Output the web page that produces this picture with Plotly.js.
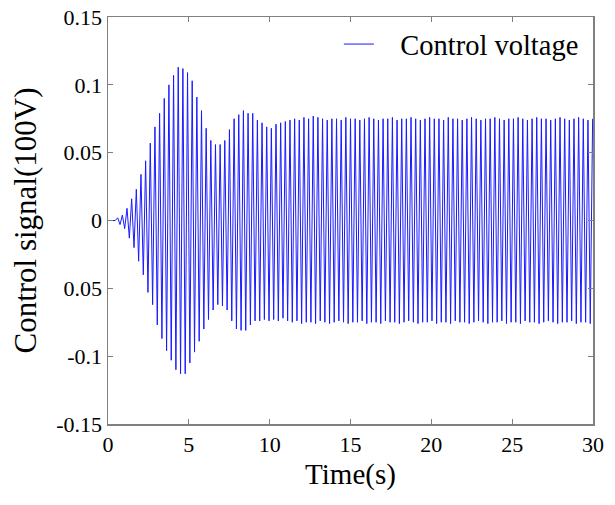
<!DOCTYPE html>
<html>
<head>
<meta charset="utf-8">
<script src="https://cdn.plot.ly/plotly-3.0.1.min.js"></script>
<style>html,body{margin:0;padding:0;background:#fff;}#chart{width:615px;height:505px;}</style>
</head>
<body>
<div id="chart"></div>
<script>
// Oscillation: time of the first peak, spacing of peaks (s)
const firstPeakTime = 0.60;
const peakPeriod = 0.288;
const quietUntil = 0.45;

// Positive peak values (one per cycle)
const positivePeaks = [
  0.002,0.004,0.009,0.016,0.023,0.034,0.044,0.057,0.069,0.079,
  0.090,0.100,0.107,0.113,0.112,0.109,0.103,0.091,0.081,0.068,
  0.059,0.056,0.056,0.059,0.067,0.075,0.078,0.081,0.079,0.079,
  0.074,0.072,0.069,0.068,0.071,0.072,0.073,0.074,
  0.075,0.074,0.076,0.075,0.077,0.076,0.075,0.074,0.075,0.075,
  0.074,0.076,0.075,0.075,0.074,0.075,0.076,0.075,0.074,0.075,
  0.075,0.076,0.074,0.075,0.075,0.076,0.075,0.074,0.075,0.076,
  0.075,0.075,0.074,0.076,0.075,0.075,0.074,0.075,0.076,0.075,
  0.074,0.075,0.075,0.076,0.075,0.074,0.075,0.075,0.076,0.075,
  0.074,0.075,0.076,0.075,0.075,0.074,0.075,0.076,0.075,0.074,
  0.075,0.076,0.075,0.074,0.075
];

// Negative peak values (half a cycle later)
const negativePeaks = [
  -0.003,-0.006,-0.013,-0.020,-0.030,-0.040,-0.053,-0.062,-0.077,-0.087,
  -0.096,-0.103,-0.110,-0.113,-0.113,-0.105,-0.097,-0.089,-0.080,-0.073,
  -0.066,-0.062,-0.063,-0.066,-0.074,-0.080,-0.081,-0.081,-0.077,-0.074,
  -0.074,-0.073,-0.074,-0.073,-0.074,-0.072,-0.074,
  -0.075,-0.074,-0.076,-0.075,-0.075,-0.076,-0.074,-0.075,-0.076,-0.075,
  -0.074,-0.075,-0.076,-0.075,-0.075,-0.074,-0.076,-0.075,-0.075,-0.076,
  -0.074,-0.075,-0.075,-0.076,-0.075,-0.074,-0.075,-0.076,-0.075,-0.075,
  -0.074,-0.076,-0.075,-0.075,-0.076,-0.074,-0.075,-0.075,-0.076,-0.075,
  -0.074,-0.075,-0.076,-0.075,-0.075,-0.074,-0.076,-0.075,-0.075,-0.076,
  -0.074,-0.075,-0.075,-0.076,-0.075,-0.074,-0.075,-0.076,-0.075,-0.075,
  -0.074,-0.076,-0.075,-0.075,-0.076
];

const xTickVals = [0,5,10,15,20,25,30];
const yTickVals = [-0.15,-0.1,-0.05,0,0.05,0.1,0.15];
const yTickText = ['-0.15','-0.1','0.05','0','0.05','0.1','0.15'];
const seriesName = 'Control voltage';

const tx = [0, quietUntil];
const ty = [0, 0];
for (let k = 0; k < positivePeaks.length; k++) {
  tx.push(firstPeakTime + k * peakPeriod);
  ty.push(positivePeaks[k]);
  if (k < negativePeaks.length) {
    tx.push(firstPeakTime + (k + 0.5) * peakPeriod);
    ty.push(negativePeaks[k]);
  }
}

const FAM = 'Liberation Serif, Times New Roman, serif';

const axisCommon = {
  ticks: 'inside', ticklen: 5, tickwidth: 1, tickcolor: '#808080',
  showline: true, linecolor: '#808080', linewidth: 1.5, mirror: 'ticks',
  showgrid: false, zeroline: false,
  tickfont: {family: FAM, size: 22, color: '#000'}
};

const trace = {
  x: tx, y: ty, type: 'scatter', mode: 'lines',
  name: '\u00a0\u00a0\u00a0' + seriesName,
  line: {color: '#1a1aff', width: 1, simplify: false}
};

const layout = {
  width: 615, height: 505,
  margin: {l: 108, r: 22, t: 17, b: 81},
  paper_bgcolor: '#fff', plot_bgcolor: '#fff',
  font: {family: FAM, color: '#000'},
  showlegend: true,
  legend: {x: 0.476, y: 0.995, xanchor: 'left', yanchor: 'top', bgcolor: 'rgba(0,0,0,0)',
           font: {family: FAM, size: 28.5, color: '#000'}, borderwidth: 0},
  xaxis: Object.assign({}, axisCommon, {
    range: [0, 30], tickvals: xTickVals,
    title: {text: 'Time(s)', font: {family: FAM, size: 29, color: '#000'}, standoff: 8}
  }),
  yaxis: Object.assign({}, axisCommon, {
    range: [-0.15, 0.15], tickvals: yTickVals, ticktext: yTickText,
    title: {text: 'Control signal(100V)', font: {family: FAM, size: 31, color: '#000'}, standoff: 10}
  })
};

Plotly.newPlot('chart', [trace], layout, {staticPlot: true, displayModeBar: false});
</script>
</body>
</html>
